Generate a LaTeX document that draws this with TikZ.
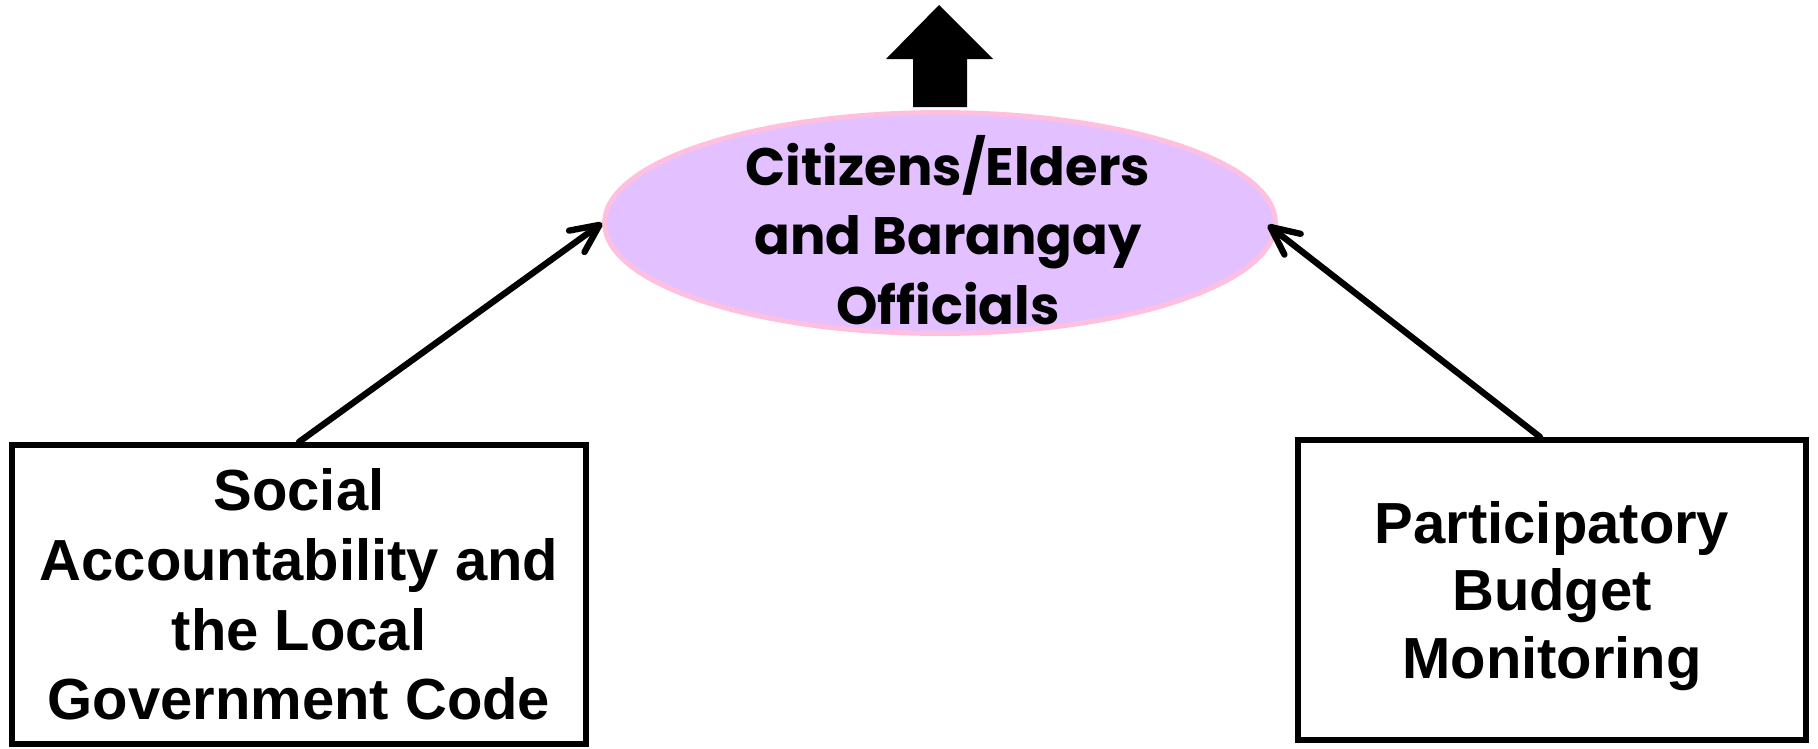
\documentclass[tikz,border=0pt]{standalone}
\usepackage{fontspec}
\setmainfont{Liberation Sans}
\newfontfamily\geofont{Poppins}
\usetikzlibrary{arrows.meta,shapes.geometric}
\definecolor{ellfill}{HTML}{E3C0FF}
\definecolor{elldraw}{HTML}{FFC0E0}
\begin{document}
\begin{tikzpicture}[x=0.02cm,y=-0.02cm,
  ell/.style={ellipse, draw=elldraw, fill=ellfill, line width=2.8pt, minimum width=13.42cm, minimum height=4.42cm, inner sep=0pt},
  elltext/.style={align=center, inner sep=0pt, font=\geofont\bfseries\fontsize{30}{39.4}\selectfont},
  box/.style={draw, line width=3.5pt, align=center, inner sep=0pt, font=\bfseries\fontsize{33}{39.7}\selectfont},
  conn/.style={line width=3.6pt, line cap=round, -{Straight Barb[length=16pt, width=15pt, round]}}
]
\useasboundingbox (0,0) rectangle (1818,748);
\fill (939,5) -- (993,59) -- (967,59) -- (967,107) -- (913,107) -- (913,59) -- (886,59) -- cycle;
\node[ell] (ell) at (940,223) {};
\node[elltext] (ellt) at (948,230) {Citizens/Elders\\and Barangay\\Officials};
\node[box, minimum width=11.48cm, minimum height=5.98cm] (soc) at (299,594.5) {Social\\Accountability and\\the Local\\Government Code};
\node[box, minimum width=10.16cm, minimum height=6cm, font=\bfseries\fontsize{33}{38.5}\selectfont] (pbm) at (1552,590) {\rule{0pt}{30.8pt}Participatory\\Budget\\Monitoring};
\draw[conn] (soc.north) -- (ell.west);
\draw[conn] ([xshift=-0.24cm]pbm.north) -- ([xshift=-0.2cm,yshift=-0.04cm]ell.east);
\end{tikzpicture}
\end{document}
